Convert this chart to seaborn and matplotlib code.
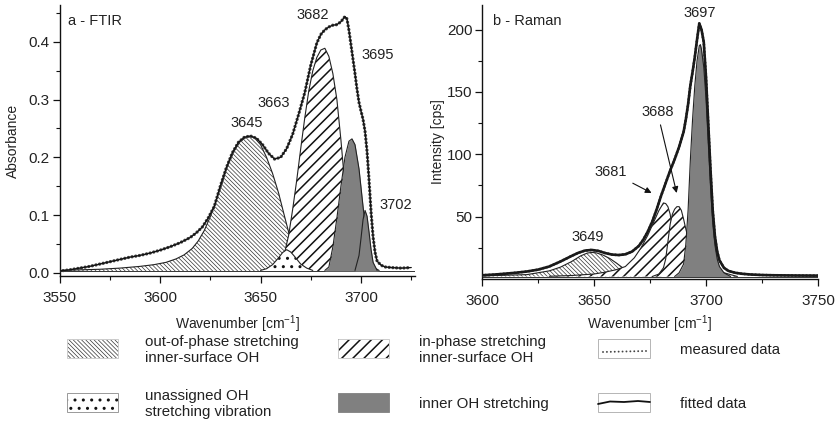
import matplotlib
matplotlib.use("Agg")
import matplotlib.pyplot as plt
import seaborn as sns
import pandas as pd
from matplotlib.patches import Rectangle
from matplotlib.ticker import FixedLocator

# ---------------- FTIR (panel a) ----------------
ftir_wn = [3550, 3555, 3560, 3565, 3570, 3575, 3580, 3585, 3590, 3595, 3600, 3605, 3610,
           3615, 3618, 3621, 3624, 3627, 3630, 3633, 3636, 3639, 3642, 3645, 3648, 3651,
           3654, 3657, 3660, 3663, 3666, 3669, 3672, 3675, 3678, 3680, 3682, 3684, 3686,
           3688, 3690, 3692, 3693, 3694, 3695, 3696, 3697, 3698, 3699, 3700, 3701, 3702,
           3703, 3704, 3705, 3706, 3707, 3708, 3710, 3712, 3715, 3720, 3725]
ftir_abs = [0.003, 0.005, 0.008, 0.011, 0.015, 0.019, 0.023, 0.027, 0.030, 0.034, 0.039,
            0.045, 0.052, 0.061, 0.069, 0.079, 0.095, 0.115, 0.150, 0.182, 0.208, 0.226,
            0.235, 0.237, 0.233, 0.222, 0.207, 0.197, 0.200, 0.215, 0.240, 0.275, 0.312,
            0.360, 0.398, 0.413, 0.421, 0.426, 0.429, 0.430, 0.435, 0.444, 0.440, 0.420,
            0.395, 0.370, 0.345, 0.318, 0.295, 0.280, 0.266, 0.245, 0.210, 0.160, 0.105,
            0.062, 0.035, 0.020, 0.013, 0.010, 0.009, 0.008, 0.009]

f3645_wn = [3550, 3560, 3570, 3580, 3590, 3597, 3603, 3608, 3612, 3616, 3619, 3622, 3625,
            3628, 3631, 3634, 3637, 3640, 3643, 3645, 3647, 3650, 3653, 3656, 3659, 3662,
            3665, 3668, 3671, 3674, 3678]
f3645_val = [0.004, 0.005, 0.006, 0.008, 0.011, 0.014, 0.018, 0.024, 0.031, 0.042, 0.055,
             0.073, 0.097, 0.125, 0.158, 0.189, 0.212, 0.228, 0.235, 0.236, 0.234, 0.222,
             0.200, 0.172, 0.138, 0.097, 0.057, 0.030, 0.014, 0.007, 0.004]

f3663_wn = [3650, 3653, 3656, 3659, 3661, 3663, 3665, 3667, 3670, 3673, 3676]
f3663_val = [0.004, 0.007, 0.014, 0.026, 0.035, 0.040, 0.036, 0.028, 0.015, 0.008, 0.004]

f3682_wn = [3655, 3658, 3661, 3664, 3666, 3668, 3670, 3672, 3674, 3676, 3678, 3680, 3682,
            3684, 3686, 3688, 3690, 3692, 3694, 3696, 3699]
f3682_val = [0.004, 0.008, 0.020, 0.065, 0.110, 0.160, 0.215, 0.268, 0.315, 0.350, 0.373,
             0.386, 0.389, 0.375, 0.345, 0.300, 0.230, 0.150, 0.075, 0.025, 0.004]

f3695_wn = [3682, 3684, 3686, 3688, 3690, 3692, 3694, 3695.5, 3697, 3699, 3701, 3703,
            3705, 3707, 3709]
f3695_val = [0.004, 0.010, 0.045, 0.095, 0.150, 0.200, 0.228, 0.232, 0.222, 0.180, 0.115,
             0.055, 0.020, 0.008, 0.004]

f3702_wn = [3697, 3699, 3700, 3701, 3702, 3703, 3704, 3705, 3706, 3708]
f3702_val = [0.004, 0.030, 0.060, 0.092, 0.108, 0.098, 0.070, 0.040, 0.018, 0.004]

ftir_labels = ["3645", "3663", "3682", "3695", "3702"]

# ---------------- Raman (panel b) ----------------
raman_wn = [3600, 3605, 3610, 3615, 3620, 3625, 3630, 3635, 3640, 3643, 3646, 3649, 3652,
            3655, 3658, 3661, 3664, 3667, 3670, 3672, 3674, 3676, 3678, 3680, 3682, 3684,
            3686, 3688, 3690, 3691, 3692, 3693, 3694, 3695, 3696, 3697, 3698, 3699, 3700,
            3701, 3702, 3703, 3704, 3705, 3706, 3708, 3710, 3713, 3716, 3720, 3725, 3730,
            3740, 3750]
raman_int = [3.0, 3.5, 4.2, 5.0, 6.0, 7.5, 10.0, 14.0, 18.5, 21.0, 22.8, 23.3, 22.5, 20.8,
             19.6, 19.2, 19.8, 22.0, 26.5, 31.5, 38.0, 46.0, 56.0, 67.0, 77.0, 87.0, 96.0,
             106.0, 118.0, 128.0, 140.0, 155.0, 166.0, 178.0, 192.0, 205.0, 200.0, 190.0,
             162.0, 125.0, 88.0, 55.0, 34.0, 22.0, 15.0, 9.0, 6.5, 5.0, 4.2, 3.6, 3.2, 3.0,
             2.8, 2.7]

r3649_wn = [3600, 3610, 3620, 3625, 3630, 3635, 3640, 3644, 3647, 3649, 3651, 3654, 3657,
            3660, 3663, 3666, 3670, 3675, 3680]
r3649_val = [2.5, 3.0, 3.5, 5.0, 6.5, 9.5, 14.0, 18.5, 20.8, 21.3, 21.0, 19.2, 16.5, 12.8,
             8.7, 5.8, 3.8, 3.0, 2.5]

r3681_wn = [3630, 3640, 3650, 3655, 3660, 3664, 3668, 3671, 3674, 3677, 3679, 3681, 3682,
            3683, 3684, 3685, 3686, 3687, 3688, 3690]
r3681_val = [2.2, 2.8, 4.0, 5.5, 7.5, 10.0, 17.0, 25.0, 35.0, 47.0, 55.0, 61.0, 60.5, 58.0,
             52.0, 40.0, 22.0, 8.0, 3.0, 2.0]

r3688_wn = [3676, 3679, 3681, 3682, 3683, 3684, 3685, 3686, 3687, 3688, 3689, 3690, 3691,
            3692, 3694, 3696, 3698, 3700, 3703, 3706, 3710, 3714]
r3688_val = [2.0, 4.0, 9.0, 16.0, 30.0, 44.0, 52.0, 56.0, 58.0, 58.0, 55.0, 48.0, 40.0,
             33.0, 24.0, 18.0, 14.0, 11.0, 8.0, 6.0, 4.0, 2.0]

r3697_wn = [3686, 3688, 3690, 3691, 3692, 3693, 3694, 3695, 3696, 3697, 3697.5, 3698, 3699,
            3700, 3701, 3702, 3703, 3704, 3705, 3706, 3708, 3711]
r3697_val = [2.0, 5.0, 12.0, 28.0, 55.0, 95.0, 128.0, 155.0, 175.0, 187.0, 188.0, 184.0,
             170.0, 145.0, 110.0, 75.0, 45.0, 27.0, 16.0, 10.0, 5.0, 2.0]

raman_labels = ["3649", "3681", "3688", "3697"]

legend_labels = ["out-of-phase stretching\ninner-surface OH",
                 "unassigned OH\nstretching vibration",
                 "in-phase stretching\ninner-surface OH",
                 "inner OH stretching",
                 "measured data",
                 "fitted data"]

# ---------------- styling ----------------
sns.set_theme(style="ticks")
plt.rcParams["font.family"] = ["Liberation Sans", "DejaVu Sans"]
plt.rcParams["mathtext.fontset"] = "custom"
plt.rcParams["mathtext.rm"] = "Liberation Sans"
plt.rcParams["mathtext.it"] = "Liberation Sans"
TXT = "#222222"
GREY = "#808080"

fig = plt.figure(figsize=(8.39, 4.22), dpi=100)
fig.patch.set_facecolor("white")

# legend canvas (pixel coordinates)
leg = fig.add_axes([0, 0, 1, 1], zorder=-1)
leg.set_xlim(0, 839)
leg.set_ylim(422, 0)
leg.axis("off")

ax1 = fig.add_axes([59.5 / 839, 1 - 276.2 / 422, 355.8 / 839, 271.2 / 422])
ax2 = fig.add_axes([482 / 839, 1 - 279 / 422, 336 / 839, 274.3 / 422])


def band(ax, wn, val, base, face, hatch, hcolor, hlw, z, outline="#222222", olw=0.8):
    with plt.rc_context({"hatch.linewidth": hlw, "hatch.color": hcolor}):
        coll = ax.fill_between(wn, base, val, facecolor=face, edgecolor=hcolor,
                               hatch=hatch, linewidth=0, zorder=z)
    if hasattr(coll, "set_hatch_linewidth"):
        coll.set_hatch_linewidth(hlw)
    ax.plot(wn, val, color=outline, lw=olw, zorder=z + 0.1)
    return coll


OUT_H = "\\" * 8
IN_H = "///"
DOT_H = ".."

# ---- panel a ----
base_a = 0.003
ax1.axhline(base_a, color="#333333", lw=0.7, zorder=1)
band(ax1, f3645_wn, f3645_val, base_a, "white", OUT_H, "#333333", 0.5, 2)
band(ax1, f3682_wn, f3682_val, base_a, "white", IN_H, "#111111", 1.1, 3)
band(ax1, f3663_wn, f3663_val, base_a, "white", DOT_H, "#111111", 1.0, 4)
band(ax1, f3695_wn, f3695_val, base_a, GREY, None, GREY, 0.5, 5)
band(ax1, f3702_wn, f3702_val, base_a, GREY, None, GREY, 0.5, 6)

df_a = pd.DataFrame({"wn": ftir_wn, "a": ftir_abs})
ax1.plot(df_a["wn"], df_a["a"], linestyle=(0, (0.01, 1.1)), lw=2.4,
         dash_capstyle="round", color="#404040", zorder=7)
sns.lineplot(data=df_a, x="wn", y="a", ax=ax1, color="#111111", lw=0.9, zorder=8)

ax1.set_xlim(3550, 3727)
ax1.set_ylim(-0.006, 0.464)
ax1.xaxis.set_major_locator(FixedLocator([3550, 3600, 3650, 3700]))
ax1.xaxis.set_minor_locator(FixedLocator([3575, 3625, 3675, 3725]))
ax1.yaxis.set_major_locator(FixedLocator([0.0, 0.1, 0.2, 0.3, 0.4]))
ax1.yaxis.set_minor_locator(FixedLocator([0.05, 0.15, 0.25, 0.35, 0.45]))
ax1.yaxis.set_major_formatter(matplotlib.ticker.FormatStrFormatter("%.1f"))

ftir_label_pos = [(3643, 0.259), (3656.5, 0.294), (3676, 0.447), (3708.5, 0.378),
                  (3717.5, 0.118)]
for lab, (xx, yy) in zip(ftir_labels, ftir_label_pos):
    ax1.text(xx, yy, lab, ha="center", va="center", fontsize=10.5, color=TXT, zorder=10)
ax1.text(3554, 0.436, "a - FTIR", ha="left", va="center", fontsize=10.5, color=TXT)

# ---- panel b ----
base_b = 2.0
ax2.axhline(base_b, color="#333333", lw=0.7, zorder=1)
band(ax2, r3649_wn, r3649_val, base_b, "white", OUT_H, "#333333", 0.5, 2)
band(ax2, r3681_wn, r3681_val, base_b, "white", IN_H, "#111111", 1.1, 3)
band(ax2, r3688_wn, r3688_val, base_b, "white", IN_H, "#111111", 1.1, 4)
band(ax2, r3697_wn, r3697_val, base_b, GREY, None, GREY, 0.5, 5)

df_b = pd.DataFrame({"wn": raman_wn, "i": raman_int})
ax2.plot(df_b["wn"], df_b["i"], linestyle=(0, (0.01, 1.3)), lw=2.0,
         dash_capstyle="round", color="#404040", zorder=7)
sns.lineplot(data=df_b, x="wn", y="i", ax=ax2, color="#1a1a1a", lw=1.9, zorder=8)

ax2.set_xlim(3600, 3750)
ax2.set_ylim(0, 220)
ax2.xaxis.set_major_locator(FixedLocator([3600, 3650, 3700, 3750]))
ax2.xaxis.set_minor_locator(FixedLocator([3625, 3675, 3725]))
ax2.yaxis.set_major_locator(FixedLocator([50, 100, 150, 200]))
ax2.yaxis.set_minor_locator(FixedLocator([25, 75, 125, 175]))

ax2.text(3605, 207, "b - Raman", ha="left", va="center", fontsize=10.5, color=TXT)
ax2.text(3647, 34, raman_labels[0], ha="center", va="center", fontsize=10.5, color=TXT)
ax2.text(3697.3, 213, raman_labels[3], ha="center", va="center", fontsize=10.5, color=TXT)
arrow = dict(arrowstyle="-|>", lw=0.8, color="#111111", mutation_scale=9,
             shrinkA=2, shrinkB=0)
ax2.annotate(raman_labels[1], xy=(3675.7, 69), xytext=(3657.5, 86), ha="center",
             va="center", fontsize=10.5, color=TXT, arrowprops=arrow, zorder=10)
ax2.annotate(raman_labels[2], xy=(3686.9, 69), xytext=(3678.3, 134), ha="center",
             va="center", fontsize=10.5, color=TXT, arrowprops=arrow, zorder=10)

for ax, ylab, ly in ((ax1, "Absorbance", -0.136), (ax2, "Intensity [cps]", -0.124)):
    sns.despine(ax=ax)
    ax.set_facecolor("white")
    ax.set_xlabel(r"Wavenumber [cm$^{-1}$]", fontsize=10, color=TXT)
    ax.set_ylabel(ylab, fontsize=10, color=TXT)
    ax.xaxis.set_label_coords(0.5, ly)
    ax.yaxis.set_label_coords(-0.11, 0.5)
    ax.tick_params(which="major", direction="out", length=5, width=0.9,
                   labelsize=11, colors="#111111", labelcolor=TXT)
    ax.tick_params(which="minor", direction="out", length=3, width=0.8,
                   colors="#111111")
    ax.tick_params(axis="x", which="major", pad=6)
    ax.tick_params(axis="y", which="major", pad=2)
    for s in ("left", "bottom"):
        ax.spines[s].set_linewidth(1.0)
        ax.spines[s].set_color("#111111")
    ax.grid(False)

# ---------------- legend ----------------
pw, ph = 51, 19
cols = [67, 338, 598]
rows = [339, 393]
tx = [145, 419, 680]
ty = [350, 404]


def hatched_rect(x, y, face, hatch, hcolor, hlw, edge):
    with plt.rc_context({"hatch.linewidth": hlw, "hatch.color": hcolor}):
        r = Rectangle((x, y), pw, ph, facecolor=face, edgecolor=hcolor, hatch=hatch, lw=0)
    if hasattr(r, "set_hatch_linewidth"):
        r.set_hatch_linewidth(hlw)
    leg.add_patch(r)
    if edge is not None:
        leg.add_patch(Rectangle((x, y), pw, ph, facecolor="none", edgecolor=edge, lw=0.7))


hatched_rect(cols[0], rows[0], "white", OUT_H, "#333333", 0.5, "#cccccc")
hatched_rect(cols[0], rows[1], "white", DOT_H, "#111111", 1.0, "#999999")
hatched_rect(cols[1], rows[0], "white", IN_H, "#111111", 1.1, "#cccccc")
leg.add_patch(Rectangle((cols[1], rows[1]), pw, ph, facecolor=GREY, edgecolor=GREY, lw=0.6))
leg.add_patch(Rectangle((cols[2], rows[0]), pw + 1, ph, facecolor="white",
                        edgecolor="#aaaaaa", lw=0.6))
leg.plot([cols[2] + 5, cols[2] + 48], [rows[0] + 13, rows[0] + 12], color="#444444",
         lw=1.4, linestyle=(0, (0.01, 2.0)), dash_capstyle="round")
leg.add_patch(Rectangle((cols[2], rows[1]), pw + 1, ph, facecolor="white",
                        edgecolor="#aaaaaa", lw=0.6))
leg.plot([cols[2], cols[2] + 12, cols[2] + 26, cols[2] + 40, cols[2] + 52],
         [rows[1] + 11, rows[1] + 8.5, rows[1] + 9, rows[1] + 8, rows[1] + 9],
         color="#111111", lw=1.3)

positions = [(tx[0], ty[0]), (tx[0], ty[1]), (tx[1], ty[0]), (tx[1], ty[1]),
             (tx[2], ty[0]), (tx[2], ty[1])]
for lab, (xx, yy) in zip(legend_labels, positions):
    leg.text(xx, yy, lab, ha="left", va="center", fontsize=10.8, color=TXT,
             linespacing=1.1)

fig.savefig("out.png", dpi=100, facecolor="white")
